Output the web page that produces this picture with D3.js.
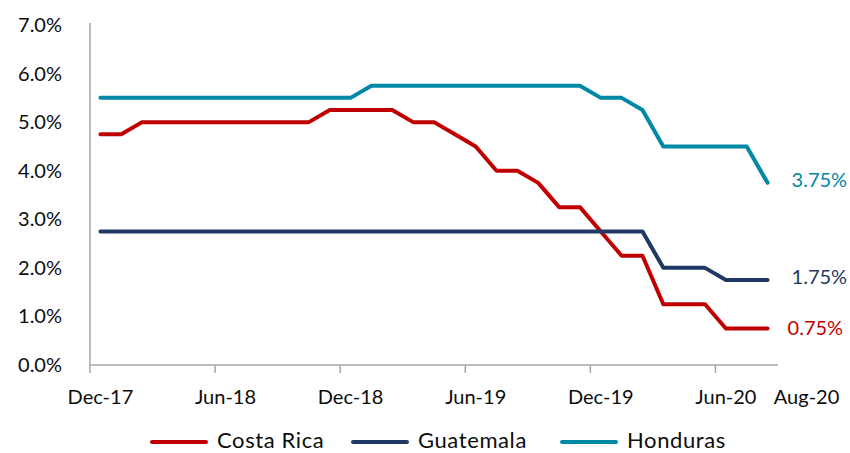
<!DOCTYPE html>
<html>
<head>
<meta charset="utf-8">
<script src="https://cdn.jsdelivr.net/npm/d3@7"></script>
<style>
  html, body { margin: 0; padding: 0; background: #fff; }
  svg { display: block; }
  text { font-family: Lato, "Open Sans", sans-serif; }
</style>
</head>
<body>
<svg id="chart" width="850" height="453"></svg>
<script>
// ---- data ----
const months = ["Dec-17","Jan-18","Feb-18","Mar-18","Apr-18","May-18","Jun-18","Jul-18","Aug-18","Sep-18","Oct-18","Nov-18",
  "Dec-18","Jan-19","Feb-19","Mar-19","Apr-19","May-19","Jun-19","Jul-19","Aug-19","Sep-19","Oct-19","Nov-19",
  "Dec-19","Jan-20","Feb-20","Mar-20","Apr-20","May-20","Jun-20","Jul-20","Aug-20"];
const costaRica = [4.75,4.75,5,5,5,5,5,5,5,5,5,5.25,5.25,5.25,5.25,5,5,4.75,4.5,4,4,3.75,3.25,3.25,2.75,2.25,2.25,1.25,1.25,1.25,0.75,0.75,0.75];
const guatemala = [2.75,2.75,2.75,2.75,2.75,2.75,2.75,2.75,2.75,2.75,2.75,2.75,2.75,2.75,2.75,2.75,2.75,2.75,2.75,2.75,2.75,2.75,2.75,2.75,2.75,2.75,2.75,2,2,2,1.75,1.75,1.75];
const honduras = [5.5,5.5,5.5,5.5,5.5,5.5,5.5,5.5,5.5,5.5,5.5,5.5,5.5,5.75,5.75,5.75,5.75,5.75,5.75,5.75,5.75,5.75,5.75,5.75,5.5,5.5,5.25,4.5,4.5,4.5,4.5,4.5,3.75];
const seriesNames = ["Costa Rica","Guatemala","Honduras"];
const seriesColors = ["#C00000","#1F3864","#0088A6"];
const yTicks = [0,1,2,3,4,5,6,7];
const xTickLabels = ["Dec-17","Jun-18","Dec-18","Jun-19","Dec-19","Jun-20"];
const lastLabel = "Aug-20";

const series = [costaRica, guatemala, honduras];

const svg = d3.select("#chart");
const x = d3.scaleBand().domain(months).range([90, 778]).padding(0);
const y = d3.scaleLinear().domain([0, 7]).range([365, 25]);
const cx = m => x(m) + x.bandwidth() / 2;
const textColor = "#0d0d0d";

// y axis line
svg.append("line").attr("x1", 90).attr("x2", 90).attr("y1", 23).attr("y2", 365)
  .attr("stroke", "#A6A6A6").attr("stroke-width", 1.5);
// y labels
svg.selectAll(".ylab").data(yTicks).enter().append("text")
  .attr("x", 62).attr("y", d => y(d)).attr("dy", "0.35em")
  .attr("text-anchor", "end").attr("font-size", 20).attr("fill", textColor)
  .text(d => d3.format(".1f")(d) + "%");

// x axis line
svg.append("line").attr("x1", 90).attr("x2", 778).attr("y1", 365).attr("y2", 365)
  .attr("stroke", "#A6A6A6").attr("stroke-width", 1.5);
// tick marks at band starts
svg.selectAll(".xtick").data(xTickLabels).enter().append("line")
  .attr("x1", d => x(d)).attr("x2", d => x(d))
  .attr("y1", 365).attr("y2", 373)
  .attr("stroke", "#A6A6A6").attr("stroke-width", 1.5);
svg.selectAll(".xlab").data(xTickLabels).enter().append("text")
  .attr("x", d => cx(d)).attr("y", 397).attr("dy", "0.35em")
  .attr("text-anchor", "middle").attr("font-size", 20).attr("fill", textColor)
  .text(d => d);
svg.append("text").attr("x", cx(lastLabel) + 39).attr("y", 397).attr("dy", "0.35em")
  .attr("text-anchor", "middle").attr("font-size", 20).attr("fill", textColor)
  .text(lastLabel);

// lines
const line = d3.line().x((d, i) => cx(months[i])).y(d => y(d));
series.forEach((s, k) => {
  svg.append("path").datum(s).attr("d", line)
    .attr("fill", "none").attr("stroke", seriesColors[k]).attr("stroke-width", 4)
    .attr("stroke-linejoin", "round").attr("stroke-linecap", "round");
});

// end labels
const endOffsets = [20, 24, 24];
const endShift = [-1, -3, -3];
series.forEach((s, k) => {
  const v = s[s.length - 1];
  svg.append("text").attr("x", cx(months[months.length - 1]) + endOffsets[k])
    .attr("y", y(v) + endShift[k]).attr("dy", "0.35em")
    .attr("font-size", 20).attr("fill", seriesColors[k])
    .text(d3.format(".2f")(v) + "%");
});

// legend
const legX = [152, 353, 562];
seriesNames.forEach((n, k) => {
  const g = svg.append("g");
  g.append("line").attr("x1", legX[k]).attr("x2", legX[k] + 54).attr("y1", 442).attr("y2", 442)
    .attr("stroke", seriesColors[k]).attr("stroke-width", 4).attr("stroke-linecap", "round");
  g.append("text").attr("x", legX[k] + 65).attr("y", 448)
    .attr("font-size", 22).attr("letter-spacing", 0.6).attr("fill", textColor).text(n);
});
</script>
</body>
</html>
